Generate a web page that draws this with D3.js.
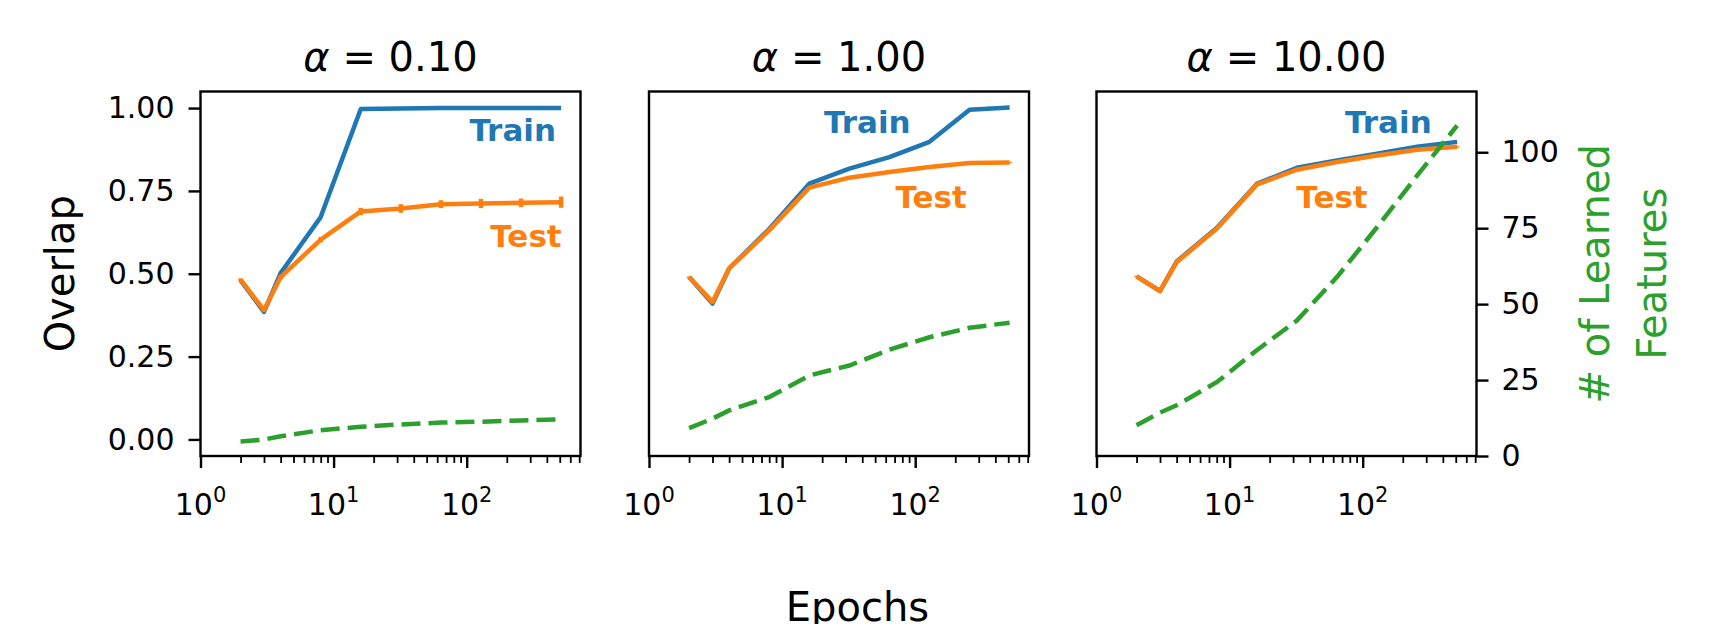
<!DOCTYPE html>
<html>
<head>
<meta charset="utf-8">
<script src="https://cdn.jsdelivr.net/npm/d3@7"></script>
<style>
  body { margin: 0; background: #fff; }
  text { font-family: "DejaVu Sans", sans-serif; }
</style>
</head>
<body>
<svg id="chart" width="1715" height="624"></svg>
<script>
// epochs on the log x axis (same for every panel)
var epochs = [2, 3, 4, 8, 16, 32, 64, 128, 256, 512];
var alphaLabels = ["0.10", "1.00", "10.00"];

// overlap, one array per alpha
var trainA01 = [0.480, 0.385, 0.502, 0.671, 0.997, 0.999, 1.000, 1.000, 1.000, 1.000];
var testA01  = [0.482, 0.390, 0.490, 0.603, 0.688, 0.697, 0.710, 0.712, 0.714, 0.716];
var testErrA01 = [0.004, 0.004, 0.006, 0.008, 0.011, 0.013, 0.012, 0.014, 0.013, 0.017];

var trainA1 = [0.490, 0.410, 0.516, 0.635, 0.772, 0.817, 0.852, 0.898, 0.995, 1.002];
var testA1  = [0.490, 0.415, 0.516, 0.631, 0.760, 0.790, 0.807, 0.822, 0.834, 0.836];
var testErrA1 = [0.002, 0.002, 0.002, 0.002, 0.002, 0.002, 0.002, 0.002, 0.002, 0.002];

var trainA10 = [0.492, 0.448, 0.537, 0.638, 0.771, 0.820, 0.842, 0.862, 0.883, 0.898];
var testA10  = [0.492, 0.448, 0.535, 0.636, 0.769, 0.814, 0.837, 0.857, 0.874, 0.883];
var testErrA10 = [0.002, 0.002, 0.002, 0.002, 0.002, 0.002, 0.002, 0.002, 0.002, 0.002];

// number of learned features (right axis)
var featA01 = [4.8, 5.4, 6.5, 8.5, 9.6, 10.4, 11.0, 11.3, 11.7, 12.1];
var featA1  = [9.2, 12.3, 15.0, 19.4, 26.5, 29.8, 35.0, 39.1, 42.2, 43.9];
var featA10 = [10.1, 14.3, 16.7, 24.3, 34.8, 44.6, 58.9, 75.3, 92.3, 108.8];

var overlapTicks = [0, 0.25, 0.5, 0.75, 1.0];
var featTicks = [0, 25, 50, 75, 100];
var majorX = [1, 10, 100];
var minorX = [2, 3, 4, 5, 6, 7, 8, 9, 20, 30, 40, 50, 60, 70, 80, 90, 200, 300, 400, 500, 600, 700];

// where the Train / Test words sit, in data units (epoch, overlap)
var trainLabelAt = [[469, 0.900], [92.5, 0.924], [330, 0.924]];
var testLabelAt  = [[517, 0.582], [244, 0.6975], [109, 0.6975]];

var panels = [
  { train: trainA01, test: testA01, err: testErrA01, feat: featA01 },
  { train: trainA1,  test: testA1,  err: testErrA1,  feat: featA1 },
  { train: trainA10, test: testA10, err: testErrA10, feat: featA10 }
];

var blue = "#1f77b4", orange = "#ff7f0e", green = "#2ca02c";
var panelLeft = [200.5, 649, 1096.5], pw = 380, plotTop = 91.5, plotBottom = 456;

var svg = d3.select("#chart");

var y = d3.scaleLinear().domain([-0.05, 1.05]).range([plotBottom, plotTop]);
var yR = d3.scaleLinear().domain([0, 120]).range([plotBottom, plotTop]);

panels.forEach(function (p, i) {
  var left = panelLeft[i];
  var x = d3.scaleLog().domain([1, 716]).range([left, left + pw]);
  var g = svg.append("g");

  var line = d3.line()
    .x(function (d) { return x(d[0]); })
    .y(function (d) { return y(d[1]); });
  var featLine = d3.line()
    .x(function (d) { return x(d[0]); })
    .y(function (d) { return yR(d[1]); });

  var trainPts = epochs.map(function (e, k) { return [e, p.train[k]]; });
  var testPts = epochs.map(function (e, k) { return [e, p.test[k], p.err[k]]; });
  var featPts = epochs.map(function (e, k) { return [e, p.feat[k]]; });

  g.append("path").datum(trainPts)
    .attr("d", line).attr("fill", "none")
    .attr("stroke", blue).attr("stroke-width", 4.5).attr("stroke-linejoin", "round");

  g.append("path").datum(testPts)
    .attr("d", line).attr("fill", "none")
    .attr("stroke", orange).attr("stroke-width", 4.5).attr("stroke-linejoin", "round");

  g.selectAll(".err").data(testPts).enter().append("line")
    .attr("x1", function (d) { return x(d[0]); })
    .attr("x2", function (d) { return x(d[0]); })
    .attr("y1", function (d) { return y(d[1] - d[2]); })
    .attr("y2", function (d) { return y(d[1] + d[2]); })
    .attr("stroke", orange).attr("stroke-width", 4.5);

  g.append("path").datum(featPts)
    .attr("d", featLine).attr("fill", "none")
    .attr("stroke", green).attr("stroke-width", 4.5)
    .attr("stroke-dasharray", "19,8");

  // Train / Test words
  g.append("text")
    .attr("x", x(trainLabelAt[i][0])).attr("y", y(trainLabelAt[i][1]))
    .attr("text-anchor", "end").attr("font-size", 31).attr("font-weight", "bold")
    .attr("fill", blue).text("Train");
  g.append("text")
    .attr("x", x(testLabelAt[i][0])).attr("y", y(testLabelAt[i][1]))
    .attr("text-anchor", "end").attr("font-size", 31).attr("font-weight", "bold")
    .attr("fill", orange).text("Test");

  // frame
  g.append("rect")
    .attr("x", left).attr("y", plotTop).attr("width", pw).attr("height", plotBottom - plotTop)
    .attr("fill", "none").attr("stroke", "#000").attr("stroke-width", 2.4);

  // x axis ticks
  var xMajor = g.append("g").attr("transform", "translate(0," + plotBottom + ")")
    .call(d3.axisBottom(x).tickValues(majorX).tickSize(12).tickFormat(""));
  var xMinor = g.append("g").attr("transform", "translate(0," + plotBottom + ")")
    .call(d3.axisBottom(x).tickValues(minorX).tickSize(7).tickFormat(""));
  xMajor.select(".domain").remove();
  xMinor.select(".domain").remove();
  xMajor.selectAll("line").attr("stroke-width", 2.4);
  xMinor.selectAll("line").attr("stroke-width", 1.8);

  var xl = g.selectAll(".xlab").data(majorX).enter().append("text")
    .attr("x", function (d) { return x(d); }).attr("y", 515)
    .attr("text-anchor", "middle").attr("font-size", 30).attr("fill", "#000");
  xl.append("tspan").text("10");
  xl.append("tspan").attr("dy", -13).attr("font-size", 21)
    .text(function (d) { return Math.round(Math.log10(d)); });

  // title
  var t = g.append("text")
    .attr("x", left + pw / 2).attr("y", 70.5)
    .attr("text-anchor", "middle").attr("font-size", 40).attr("fill", "#000");
  t.append("tspan").attr("font-style", "italic").text("α");
  t.append("tspan").text(" = " + alphaLabels[i]);

  if (i === 0) {
    var ya = g.append("g").attr("transform", "translate(" + left + ",0)")
      .call(d3.axisLeft(y).tickValues(overlapTicks).tickSize(12).tickPadding(14)
        .tickFormat(d3.format(".2f")));
    ya.select(".domain").remove();
    ya.selectAll("line").attr("stroke-width", 2.4);
    ya.selectAll("text").attr("font-size", 30).attr("font-family", "DejaVu Sans");
  }
  if (i === 2) {
    var yb = g.append("g").attr("transform", "translate(" + (left + pw) + ",0)")
      .call(d3.axisRight(yR).tickValues(featTicks).tickSize(12).tickPadding(13));
    yb.select(".domain").remove();
    yb.selectAll("line").attr("stroke-width", 2.4);
    yb.selectAll("text").attr("font-size", 30).attr("font-family", "DejaVu Sans");
  }
});

// axis titles
svg.append("text")
  .attr("transform", "translate(74," + ((plotTop + plotBottom) / 2) + ") rotate(-90)")
  .attr("text-anchor", "middle").attr("font-size", 40).attr("fill", "#000")
  .text("Overlap");

svg.append("text")
  .attr("transform", "translate(1609," + ((plotTop + plotBottom) / 2) + ") rotate(-90)")
  .attr("text-anchor", "middle").attr("font-size", 40).attr("fill", green)
  .text("# of Learned");
svg.append("text")
  .attr("transform", "translate(1666," + ((plotTop + plotBottom) / 2) + ") rotate(-90)")
  .attr("text-anchor", "middle").attr("font-size", 40).attr("fill", green)
  .text("Features");

svg.append("text")
  .attr("x", 1715 / 2).attr("y", 621)
  .attr("text-anchor", "middle").attr("font-size", 40).attr("fill", "#000")
  .text("Epochs");
</script>
</body>
</html>
